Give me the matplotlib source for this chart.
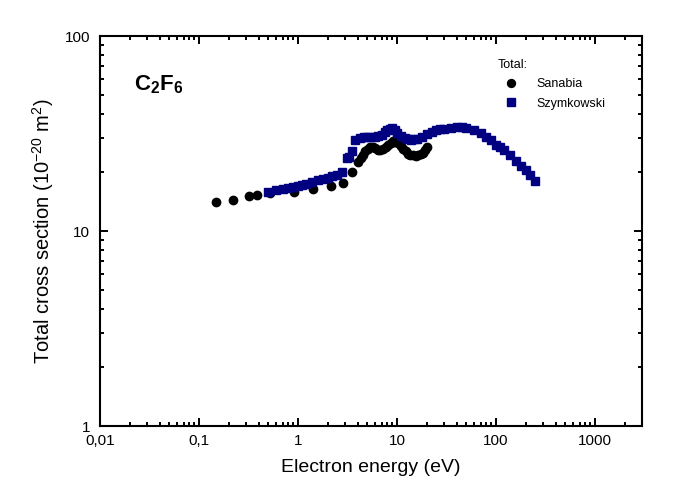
import matplotlib
matplotlib.use("Agg")
from matplotlib import pyplot as plt
from matplotlib.ticker import FixedLocator, LogLocator, NullFormatter

plt.rcParams['font.family'] = ['Liberation Sans', 'DejaVu Sans']
plt.rcParams['mathtext.fontset'] = 'custom'
plt.rcParams['mathtext.rm'] = 'Liberation Sans'
plt.rcParams['mathtext.it'] = 'Liberation Sans'
plt.rcParams['mathtext.bf'] = 'Liberation Sans:bold'

# Sanabia (black circles)
sanabia_e = [0.15, 0.22, 0.32, 0.39, 0.52, 0.92, 1.41, 2.16, 2.84, 3.53, 4.04,
             4.3, 4.55, 4.8, 5.1, 5.4, 5.7, 6.0, 6.4, 6.8, 7.2, 7.7, 8.2, 8.7,
             9.1, 9.6, 10.3, 10.9, 11.5, 12.2, 12.9, 13.7, 14.5, 15.4, 16.3,
             17.3, 18.4, 19.3, 20.2]
sanabia_s = [14.1, 14.4, 15.1, 15.4, 15.6, 15.9, 16.4, 17.0, 17.7, 20.0, 22.7,
             23.8, 24.7, 25.7, 26.5, 26.9, 27.1, 26.6, 26.0, 26.1, 26.5, 27.0, 27.6, 28.3,
             29.0, 28.8, 28.2, 27.4, 26.5, 25.7, 25.0, 24.7, 24.5, 24.4, 24.5,
             24.8, 25.3, 26.1, 27.1]

# Szymkowski (navy squares)
szym_e = [0.5, 0.6, 0.7, 0.8, 0.9, 1.0, 1.1, 1.2, 1.4, 1.6, 1.8, 2.0, 2.2, 2.5,
          2.8, 3.1, 3.3, 3.5, 3.8, 4.2, 4.6, 5.0, 5.5, 6.0, 6.5, 7.0, 7.5, 8.0,
          8.5, 9.0, 9.5, 10.0, 11.0, 12.0, 13.0, 14.0, 15.0, 16.0, 18.0, 20.0,
          22.5, 25.0, 27.5, 30.0, 35.0, 40.0, 45.0, 50.0, 60.0, 70.0, 80.0, 90.0,
          100.0, 110.0, 120.0, 140.0, 160.0, 180.0, 200.0, 220.0, 250.0]
szym_s = [15.9, 16.2, 16.5, 16.7, 16.9, 17.1, 17.3, 17.5, 17.8, 18.2, 18.5, 18.8, 19.1, 19.5,
          20.1, 23.7, 23.9, 25.7, 29.5, 30.0, 30.3, 30.3, 30.3, 30.4, 30.7, 31.3, 32.3, 32.9,
          33.5, 33.7, 33.0, 31.8, 30.6, 29.9, 29.6, 29.5, 29.6, 29.8, 30.5, 31.5,
          32.2, 32.9, 33.3, 33.6, 34.0, 34.3, 34.2, 33.9, 33.1, 31.9, 30.5, 29.2,
          27.8, 26.9, 26.0, 24.7, 22.9, 21.5, 20.5, 19.5, 18.0]

x_ticks = [0.01, 0.1, 1, 10, 100, 1000]
x_labels = ['0,01', '0,1', '1', '10', '100', '1000']
y_ticks = [1, 10, 100]
y_labels = ['1', '10', '100']

fig = plt.figure(figsize=(6.92, 5.03), dpi=100)
ax = fig.add_axes([0.1445, 0.153, 0.7835, 0.775])

ax.plot(sanabia_e, sanabia_s, 'o', color='black', ms=6, mec='black', label='Sanabia')
ax.plot(szym_e, szym_s, 's', color='#000080', ms=5.6, mec='#000080', label='Szymkowski')

ax.set_xscale('log')
ax.set_yscale('log')
ax.set_xlim(0.01, 3000)
ax.set_ylim(1, 100)

ax.xaxis.set_major_locator(FixedLocator(x_ticks))
ax.set_xticklabels(x_labels)
ax.yaxis.set_major_locator(FixedLocator(y_ticks))
ax.set_yticklabels(y_labels)
ax.xaxis.set_minor_locator(LogLocator(base=10, subs=range(2, 10), numticks=20))
ax.yaxis.set_minor_locator(LogLocator(base=10, subs=range(2, 10), numticks=20))
ax.xaxis.set_minor_formatter(NullFormatter())
ax.yaxis.set_minor_formatter(NullFormatter())

ax.tick_params(which='both', direction='in', top=True, right=True, width=1.4)
ax.tick_params(which='major', length=5.5, labelsize=11, pad=5.5)
ax.tick_params(which='minor', length=3)
ax.tick_params(axis='y', which='major', pad=7)
for sp in ax.spines.values():
    sp.set_linewidth(1.5)

ax.set_xlabel('Electron energy (eV)', fontsize=14, labelpad=8)
ax.set_ylabel('Total cross section (10$^{-20}$ m$^{2}$)', fontsize=14.5, labelpad=6)

ax.text(0.063, 0.875, r'$\mathbf{C_2F_6}$', transform=ax.transAxes, fontsize=16,
        va='center', ha='left')

leg = ax.legend(loc='upper left', bbox_to_anchor=(0.718, 0.965), frameon=False,
                title='Total:', fontsize=9, title_fontsize=9, handletextpad=1.1,
                borderpad=0.2, labelspacing=0.6, markerscale=0.95)
leg._legend_box.align = 'left'

fig.savefig('out.png', dpi=100)
